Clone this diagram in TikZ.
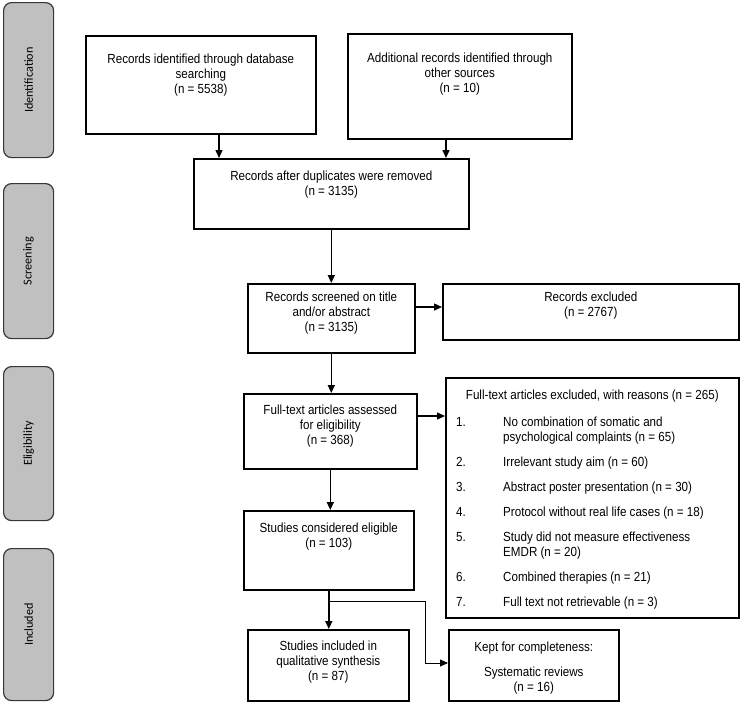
\documentclass[tikz,border=0pt]{standalone}
\usepackage{fontspec}
\setmainfont[FakeStretch=0.88]{Liberation Sans}
\newfontfamily\calib{Carlito}
\usetikzlibrary{arrows.meta}
\definecolor{sidefill}{RGB}{192,192,192}
\definecolor{sidedraw}{RGB}{55,55,55}
\begin{document}
\begin{tikzpicture}[x=1pt,y=-1pt,
  box/.style={draw, line width=1.6pt, inner sep=0pt, anchor=north west},
  txt/.style={anchor=north, align=center, inner sep=0pt, font=\fontsize{13.2}{15.3}\selectfont},
  side/.style={draw=sidedraw, fill=sidefill, rounded corners=8pt, line width=1.2pt, anchor=north west, inner sep=0pt},
  sidetxt/.style={rotate=90, inner sep=0pt, font=\calib\fontsize{12.2}{14}\selectfont},
  arr/.style={line width=1.4pt, -{Triangle[length=8pt,width=7pt]}},
  thinarr/.style={line width=0.8pt, -{Triangle[length=8pt,width=7pt]}}]
\useasboundingbox (0,0) rectangle (740,705);

% side labels
\node[side, minimum width=50pt, minimum height=155pt] (s1) at (3,2) {};
\node[sidetxt] (s1t) at (s1.center) {Identification};
\node[side, minimum width=50pt, minimum height=155pt] (s2) at (3,183) {};
\node[sidetxt] (s2t) at (s2.center) {Screening};
\node[side, minimum width=50pt, minimum height=154pt] (s3) at (3,366) {};
\node[sidetxt] (s3t) at (s3.center) {Eligibility};
\node[side, minimum width=50pt, minimum height=152pt] (s4) at (3,548) {};
\node[sidetxt] (s4t) at (s4.center) {Included};

% boxes
\node[box, minimum width=230pt, minimum height=98pt] (b1) at (85,35) {};
\node[txt] (b1t) at ([yshift=-18.5pt]b1.north) {Records identified through database\\searching\\(n = 5538)};

\node[box, minimum width=224pt, minimum height=105pt] (b2) at (347,33) {};
\node[txt] (b2t) at ([yshift=-19.5pt]b2.north) {Additional records identified through\\other sources\\(n = 10)};

\node[box, minimum width=275pt, minimum height=70pt] (dup) at (193,158) {};
\node[txt] (dupt) at ([yshift=-12.5pt]dup.north) {Records after duplicates were removed\\(n = 3135)};

\node[box, minimum width=167pt, minimum height=69pt] (scr) at (247,283) {};
\node[txt] (scrt) at ([yshift=-8.5pt]scr.north) {Records screened on title\\and/or abstract\\(n = 3135)};

\node[box, minimum width=296pt, minimum height=56pt] (exc) at (442,283) {};
\node[txt] (exct) at ([yshift=-8.5pt]exc.north) {Records excluded\\(n = 2767)};

\node[box, minimum width=173pt, minimum height=75pt] (full) at (243,393) {};
\node[txt] (fullt) at ([yshift=-11.5pt]full.north) {Full-text articles assessed\\for eligibility\\(n = 368)};

\node[box, minimum width=293pt, minimum height=240pt] (exl) at (445,377) {};
\node[txt] (exlh) at ([yshift=-12.5pt]exl.north) {Full-text articles excluded, with reasons (n = 265)};
\node[anchor=base west, inner sep=0pt, font=\fontsize{13.2}{15.3}\selectfont] (exlist) at (456,426)
 {\begin{tabular}[t]{@{}p{47pt}@{}l@{}}
 1. & No combination of somatic and\\
    & psychological complaints (n = 65)\\[9.7pt]
 2. & Irrelevant study aim (n = 60)\\[9.7pt]
 3. & Abstract poster presentation (n = 30)\\[9.7pt]
 4. & Protocol without real life cases (n = 18)\\[9.7pt]
 5. & Study did not measure effectiveness\\
    & EMDR (n = 20)\\[9.7pt]
 6. & Combined therapies (n = 21)\\[9.7pt]
 7. & Full text not retrievable (n = 3)
 \end{tabular}};

\node[box, minimum width=170pt, minimum height=79pt] (elig) at (243,510) {};
\node[txt] (eligt) at ([yshift=-12.5pt]elig.north) {Studies considered eligible\\(n = 103)};

\node[box, minimum width=161pt, minimum height=71pt] (incl) at (247,629) {};
\node[txt] (inclt) at ([yshift=-11.5pt]incl.north) {Studies included in\\qualitative synthesis\\(n = 87)};

\node[box, minimum width=170pt, minimum height=71pt] (kept) at (448,629) {};
\node[txt] (keptt) at ([yshift=-12.5pt]kept.north) {Kept for completeness:\\[10pt]Systematic reviews\\(n = 16)};

% connectors
\coordinate (xa) at (219,0);
\coordinate (xb) at (446,0);
\coordinate (ya) at (0,307);
\coordinate (yb) at (0,416);
\coordinate (yc) at (0,601);
\coordinate (xc) at (425,0);
\coordinate (yd) at (0,663);
\draw[arr] (b1.south -| xa) -- (dup.north -| xa);
\draw[arr] (b2.south -| xb) -- (dup.north -| xb);
\draw[arr] (dup.south) -- (dup.south |- scr.north);
\draw[arr] (scr.east |- ya) -- (exc.west |- ya);
\draw[arr] (scr.south) -- (scr.south |- full.north);
\draw[arr] (full.east |- yb) -- (exl.west |- yb);
\draw[arr] (full.south) -- (full.south |- elig.north);
\draw[arr] (elig.south) -- (elig.south |- incl.north);
\draw[thinarr] (elig.south |- yc) -- (xc |- yc) -- (xc |- yd) -- (kept.west |- yd);
\end{tikzpicture}
\end{document}
